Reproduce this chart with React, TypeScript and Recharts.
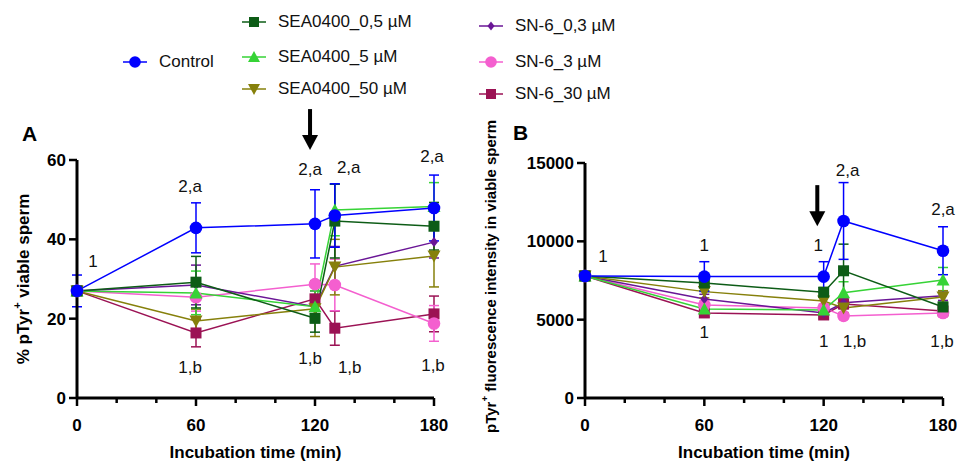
import { LineChart, Line, XAxis, YAxis, ErrorBar, ReferenceDot, Label } from 'recharts'

// sampling times (min)
const times = [0, 60, 120, 130, 180]
const xTicks = [0, 20, 40, 60, 80, 100, 120, 140, 160, 180]
const yTicksA = [0, 20, 40, 60]
const yTicksB = [0, 5000, 10000, 15000]

// Panel A: % pTyr+ viable sperm (mean, error)
const controlA = [27, 42.9, 43.9, 46, 47.9]
const controlAErr = [4, 6.3, 8.6, 8, 8.3]
const sea05A = [27, 29.2, 20.1, 44.6, 43.3]
const sea05AErr = [0, 6.5, 3.5, 9.3, 6]
const sea5A = [27, 26.5, 23, 47.4, 48.3]
const sea5AErr = [0, 5.5, 4, 6.5, 6]
const sea50A = [27, 19.4, 22.5, 33, 35.8]
const sea50AErr = [0, 3, 7, 7, 7.8]
const sn03A = [27, 28.5, 23, 33.2, 39.3]
const sn03AErr = [0, 5, 4, 5, 4]
const sn3A = [27, 25.4, 28.7, 28.5, 18.8]
const sn3AErr = [0, 3.5, 5.1, 6.5, 4.5]
const sn30A = [27, 16.4, 25, 17.6, 21.2]
const sn30AErr = [0, 3.5, 4.5, 4.3, 4.5]

// Panel B: pTyr+ fluorescence intensity in viable sperm
const controlB = [7790, 7750, 7750, 11300, 9400]
const controlBErr = [0, 950, 950, 2450, 1530]
const sea05B = [7790, 7340, 6750, 8120, 5810]
const sea05BErr = [0, 500, 300, 1700, 300]
const sea5B = [7790, 5680, 5620, 6720, 7530]
const sea5BErr = [0, 300, 300, 700, 800]
const sea50B = [7790, 6790, 6190, 5750, 6450]
const sea50BErr = [0, 400, 300, 300, 400]
const sn03B = [7790, 6320, 5430, 6080, 6530]
const sn03BErr = [0, 300, 200, 300, 300]
const sn3B = [7790, 5940, 5750, 5240, 5430]
const sn3BErr = [0, 250, 250, 200, 250]
const sn30B = [7790, 5430, 5300, 6000, 5550]
const sn30BErr = [0, 250, 200, 300, 300]

// significance annotations (anchored in data units)
const notesA = [
  { t: 8, v: 34.3, text: '1' },
  { t: 57, v: 53.4, text: '2,a' },
  { t: 117.5, v: 57.5, text: '2,a' },
  { t: 137, v: 58, text: '2,a' },
  { t: 179, v: 60.8, text: '2,a' },
  { t: 57, v: 7.8, text: '1,b' },
  { t: 117.5, v: 10, text: '1,b' },
  { t: 137.5, v: 7.6, text: '1,b' },
  { t: 179.5, v: 8.3, text: '1,b' },
]
const notesB = [
  { t: 9, v: 9060, text: '1' },
  { t: 60, v: 9760, text: '1' },
  { t: 117.3, v: 9760, text: '1' },
  { t: 132, v: 14530, text: '2,a' },
  { t: 180, v: 12050, text: '2,a' },
  { t: 60, v: 4160, text: '1' },
  { t: 120, v: 3600, text: '1' },
  { t: 135.5, v: 3600, text: '1,b' },
  { t: 179.5, v: 3600, text: '1,b' },
]
const arrowA = { t: 117.5, v: 62.5 }
const arrowB = { t: 116.8, v: 10970 }

const series = [
  { key: 'sn30', name: 'SN-6_30 µM', color: '#9b1254', shape: 'square' },
  { key: 'sn3', name: 'SN-6_3 µM', color: '#f45fcf', shape: 'circle' },
  { key: 'sn03', name: 'SN-6_0,3 µM', color: '#6a1696', shape: 'diamond' },
  { key: 'sea50', name: 'SEA0400_50 µM', color: '#86800b', shape: 'down' },
  { key: 'sea5', name: 'SEA0400_5 µM', color: '#36d336', shape: 'up' },
  { key: 'sea05', name: 'SEA0400_0,5 µM', color: '#0d5c16', shape: 'square' },
  { key: 'ctrl', name: 'Control', color: '#0000ff', shape: 'circle' },
]

function buildRows(cols: Record<string, [number[], number[]]>) {
  return times.map((t, i) => {
    const row: any = { t }
    Object.keys(cols).forEach(k => {
      row[k] = cols[k][0][i]
      row[k + '_e'] = cols[k][1][i]
    })
    return row
  })
}

const rowsA = buildRows({
  ctrl: [controlA, controlAErr], sea05: [sea05A, sea05AErr], sea5: [sea5A, sea5AErr],
  sea50: [sea50A, sea50AErr], sn03: [sn03A, sn03AErr], sn3: [sn3A, sn3AErr], sn30: [sn30A, sn30AErr],
})
const rowsB = buildRows({
  ctrl: [controlB, controlBErr], sea05: [sea05B, sea05BErr], sea5: [sea5B, sea5BErr],
  sea50: [sea50B, sea50BErr], sn03: [sn03B, sn03BErr], sn3: [sn3B, sn3BErr], sn30: [sn30B, sn30BErr],
})

const FONT = '"Liberation Sans", Arial, sans-serif'

function Marker({ cx, cy, shape, color, s = 11 }: any) {
  if (cx == null || cy == null) return null
  const h = s / 2
  if (shape === 'circle') return <circle cx={cx} cy={cy} r={h + 0.8} fill={color} />
  if (shape === 'square') return <rect x={cx - h} y={cy - h} width={s} height={s} fill={color} />
  if (shape === 'up') return <polygon points={`${cx - h - 1},${cy + h} ${cx + h + 1},${cy + h} ${cx},${cy - h - 1}`} fill={color} />
  if (shape === 'down') return <polygon points={`${cx - h - 1},${cy - h} ${cx + h + 1},${cy - h} ${cx},${cy + h + 1}`} fill={color} />
  return <polygon points={`${cx},${cy - h} ${cx + h - 1},${cy} ${cx},${cy + h} ${cx - h + 1},${cy}`} fill={color} />
}

function XTick({ x, y, payload }: any) {
  const axisY = y - 11
  const major = payload.value % 60 === 0
  return (
    <g>
      <line x1={x} x2={x} y1={axisY} y2={axisY + (major ? 8 : 5)} stroke="#000" strokeWidth={2.5} />
      {major && (
        <text x={x} y={axisY + 27} textAnchor="middle" dominantBaseline="central" fontSize={17} fontWeight={700} fill="#000">
          {payload.value}
        </text>
      )}
    </g>
  )
}

function YTitle({ viewBox, px, dyc, size, before, after }: any) {
  const cy = viewBox.y + viewBox.height / 2 + dyc
  return (
    <text x={px} y={cy} transform={`rotate(-90 ${px} ${cy})`} textAnchor="middle" dominantBaseline="central"
      fontSize={size} fontWeight={700} fill="#000">
      {before}<tspan dy={-6} fontSize={size * 0.65}>+</tspan><tspan dy={6}>{after}</tspan>
    </text>
  )
}

function Panel({ rows, yTicks, yMax, notes, arrow, margin, yWidth, title }: any) {
  return (
    <LineChart width={margin.w} height={367} data={rows} margin={margin.m} style={{ fontFamily: FONT }}>
      <XAxis dataKey="t" type="number" domain={[0, 180]} ticks={xTicks} interval={0}
        axisLine={{ stroke: '#000', strokeWidth: 3 }} tickLine={false} tickSize={7} tickMargin={4}
        tick={<XTick />} height={60}>
        <Label value="Incubation time (min)" position="insideBottom" offset={0} fontSize={17} fontWeight={700} fill="#000" />
      </XAxis>
      <YAxis type="number" domain={[0, yMax]} ticks={yTicks} interval={0} width={yWidth}
        axisLine={{ stroke: '#000', strokeWidth: 3 }} tickLine={{ stroke: '#000', strokeWidth: 2.5 }}
        tickSize={8} tickMargin={3} tick={{ fill: '#000', fontSize: 17, fontWeight: 700 }}
        label={<YTitle {...title} />} />
      {series.map(s => (
        <Line key={s.key} dataKey={s.key} type="linear" stroke={s.color} strokeWidth={1.5}
          isAnimationActive={false} activeDot={false}
          dot={(p: any) => <Marker key={`${s.key}-${p.index}`} cx={p.cx} cy={p.cy} shape={s.shape} color={s.color} s={s.shape === 'diamond' ? 10 : 11} />}>
          <ErrorBar dataKey={s.key + '_e'} direction="y" width={5} stroke={s.color} strokeWidth={1.5} isAnimationActive={false} />
        </Line>
      ))}
      {notes.map((n: any, i: number) => (
        <ReferenceDot key={'n' + i} x={n.t} y={n.v} r={0} ifOverflow="visible"
          shape={(p: any) => (
            <text x={p.cx} y={p.cy} textAnchor="middle" dominantBaseline="central" fontSize={17} fill="#111">{n.text}</text>
          )} />
      ))}
      <ReferenceDot x={arrow.t} y={arrow.v} r={0} ifOverflow="visible"
        shape={(p: any) => (
          <g>
            <rect x={p.cx - 2} y={p.cy - 41} width={4} height={28} fill="#000" />
            <polygon points={`${p.cx - 8},${p.cy - 15} ${p.cx + 8},${p.cy - 15} ${p.cx},${p.cy}`} fill="#000" />
          </g>
        )} />
    </LineChart>
  )
}

function LegendItem({ s, x, y }: any) {
  return (
    <div style={{ position: 'absolute', left: x, top: y - 12, height: 24, display: 'flex', alignItems: 'center', whiteSpace: 'nowrap' }}>
      <svg width={30} height={24} style={{ marginRight: 8 }}>
        <line x1={2} x2={26} y1={12} y2={12} stroke={s.color} strokeWidth={1.5} />
        <Marker cx={14} cy={12} shape={s.shape} color={s.color} s={s.shape === 'diamond' ? 9 : 10} />
      </svg>
      <span style={{ fontSize: 17, color: '#111' }}>{s.name}</span>
    </div>
  )
}

const legendPos: Record<string, [number, number]> = {
  ctrl: [121, 62],
  sea05: [240, 22], sea5: [240, 57], sea50: [240, 89],
  sn03: [477, 26], sn3: [477, 62], sn30: [477, 94],
}

const letterStyle: any = { position: 'absolute', fontSize: 21, fontWeight: 700, lineHeight: '22px', color: '#000' }

export default function App() {
  return (
    <div style={{ position: 'absolute', left: 0, top: 0, width: 957, height: 462, background: '#fff', fontFamily: FONT, overflow: 'hidden' }}>
      {series.map(s => (
        <LegendItem key={s.key} s={s} x={legendPos[s.key][0]} y={legendPos[s.key][1]} />
      ))}
      <div style={{ ...letterStyle, left: 22, top: 123 }}>A</div>
      <div style={{ ...letterStyle, left: 513, top: 122 }}>B</div>
      <div style={{ position: 'absolute', left: 0, top: 95 }}>
        <Panel rows={rowsA} yTicks={yTicksA} yMax={60} notes={notesA} arrow={arrowA}
          margin={{ w: 480, m: { top: 65, right: 46, bottom: 4, left: 17 } }} yWidth={60}
          title={{ px: 23, dyc: 0, size: 17, before: '% pTyr', after: ' viable sperm' }} />
      </div>
      <div style={{ position: 'absolute', left: 480, top: 95 }}>
        <Panel rows={rowsB} yTicks={yTicksB} yMax={15000} notes={notesB} arrow={arrowB}
          margin={{ w: 477, m: { top: 68, right: 14, bottom: 4, left: 35 } }} yWidth={70}
          title={{ px: 10, dyc: -4, size: 15, before: 'pTyr', after: ' fluorescence intensity in viable sperm' }} />
      </div>
    </div>
  )
}
